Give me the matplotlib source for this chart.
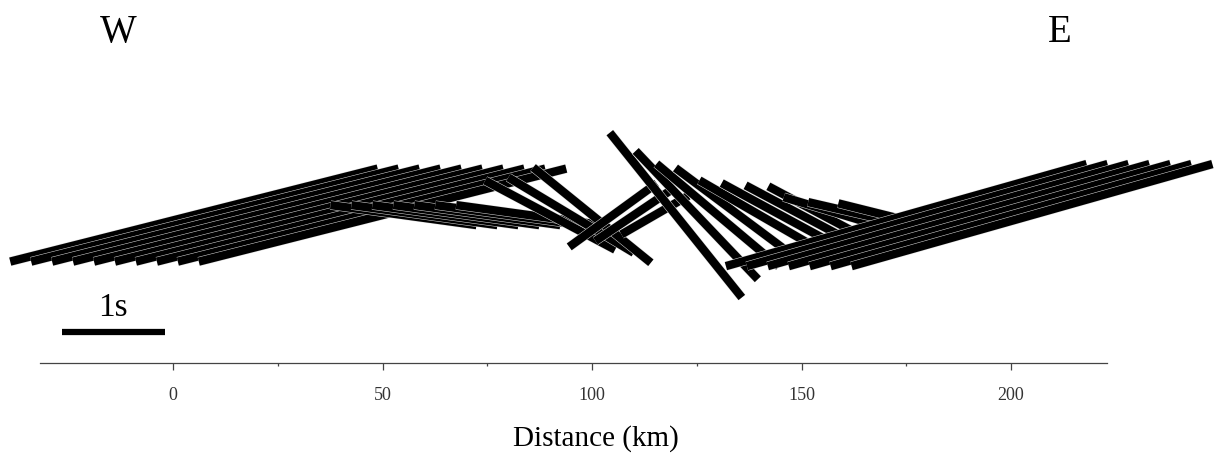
import numpy as np
import matplotlib.pyplot as plt
import matplotlib.patheffects as pe

# splitting results along the profile: station (km), fast azimuth (deg from N), delay time (s)
station = np.arange(5, 210, 5)
fast_az = [75.8, 75.8, 75.8, 75.8, 75.8, 75.8, 75.8, 75.8, 75.8, 75.8,
           97.8, 97.8, 97.8, 97.8, 97.8, 97.8, 97.8,
           118.0, 121.0, 129.0,
           54.0, 56.0, 60.0,
           141.3, 136.4,
           130.0, 126.7, 120.0, 118.5, 118.0, 118.0, 106.7, 103.0, 104.0,
           74.2, 74.2, 74.2, 74.2, 74.2, 74.2, 74.2]
delay = [3.68, 3.68, 3.68, 3.68, 3.68, 3.68, 3.68, 3.68, 3.68, 3.68,
         1.43, 1.43, 1.43, 1.43, 1.43, 1.43, 1.43,
         1.43, 1.42, 1.47,
         1.05, 0.90, 0.75,
         2.05, 1.72,
         1.55, 1.53, 1.35, 1.30, 1.23, 1.19, 1.21, 1.12, 0.94,
         3.64, 3.64, 3.64, 3.64, 3.64, 3.64, 3.64]

km_per_s = 24.58   # bar length of 1 s in km units of the section
y0 = 35.3          # level of the bar centres above the distance axis

fig = plt.figure(figsize=(12.17, 4.54), dpi=100)
ax = fig.add_axes([0, 0.2004, 1, 0.7996])
ax.set_xlim(-41.29, 249.16)
ax.set_ylim(0, 86.63)

outline = [pe.Stroke(linewidth=6.7, foreground='#dddddd'), pe.Normal()]
for s, a, d in zip(station, fast_az, delay):
    th = np.radians(a)
    dx = 0.5 * d * km_per_s * np.sin(th)
    dy = 0.5 * d * km_per_s * np.cos(th)
    ax.plot([s - dx, s + dx], [y0 - dy, y0 + dy], color='black', lw=6.0,
            solid_capstyle='butt', clip_on=False, path_effects=outline)

# scale bar
ax.plot([-26.5, -26.5 + km_per_s], [7.4, 7.4], color='black', lw=4.5,
        solid_capstyle='butt')
ax.text(-14.3, 13.3, '1s', family='Liberation Serif', fontsize=24,
        ha='center', va='center')

ax.text(-13.1, 78.8, 'W', family='Liberation Serif', fontsize=28,
        ha='center', va='center')
ax.text(211.7, 78.8, 'E', family='Liberation Serif', fontsize=28,
        ha='center', va='center')

for sp in ['top', 'left', 'right']:
    ax.spines[sp].set_visible(False)
ax.spines['bottom'].set_bounds(-31.7, 223)
ax.spines['bottom'].set_color('#444444')
ax.spines['bottom'].set_linewidth(0.9)
ax.set_yticks([])
ax.set_xticks([0, 50, 100, 150, 200])
ax.set_xticks([25, 75, 125, 175], minor=True)
ax.tick_params(axis='x', which='major', direction='out', length=5, width=0.9,
               color='#444444', pad=12, labelsize=13, labelcolor='#333333')
ax.tick_params(axis='x', which='minor', direction='out', length=2, width=0.9,
               color='#444444')
for lab in ax.get_xticklabels():
    lab.set_family('Liberation Serif')
ax.set_xlabel('Distance (km)', family='Liberation Serif', fontsize=21)
ax.xaxis.set_label_coords(0.4897, -0.172)

fig.savefig('out.png', dpi=100)
